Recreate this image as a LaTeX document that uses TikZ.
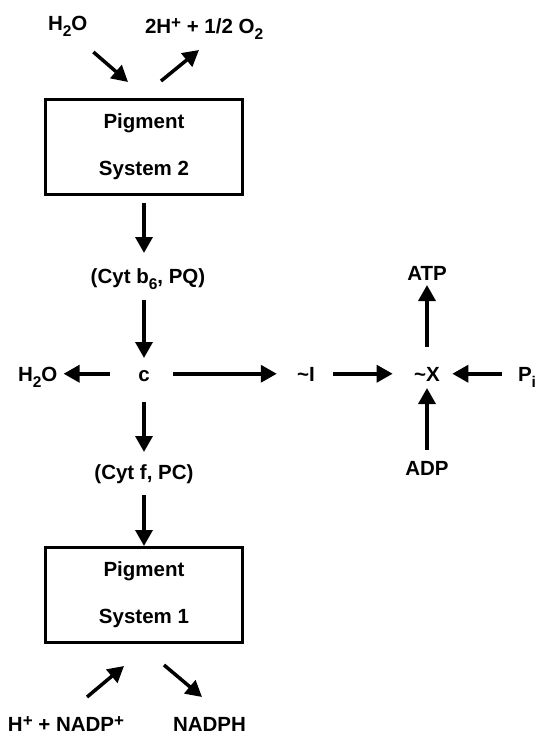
\documentclass[tikz,border=0pt]{standalone}
\usepackage{fontspec}
\setmainfont{Liberation Sans}
\usetikzlibrary{arrows.meta}
% small raised / lowered text for charges and indices
\newcommand\mysub[1]{\raisebox{-6.5pt}{\fontsize{15.5}{15.5}\selectfont #1}}
\newcommand\mysup[1]{\raisebox{5pt}{\fontsize{17}{17}\selectfont #1}}
\tikzset{
  lbl/.style={inner sep=0pt, outer sep=0pt, anchor=base, text height=14.5pt, text depth=0pt,
              font=\fontsize{20.5}{24}\selectfont\bfseries},
  psbox/.style={draw, line width=3.2pt, minimum width=196.8pt, minimum height=94.8pt,
                align=center, inner sep=0pt, font=\fontsize{20.5}{24}\selectfont\bfseries},
  arr/.style={line width=3.5pt, -{Triangle[length=16pt,width=17pt]}},
}
\begin{document}
\begin{tikzpicture}[x=1pt,y=-1pt]
\useasboundingbox (0,0) rectangle (541,734);

% photosystem boxes
\node[psbox] (ps2) at (144,147) {Pigment\\[23pt]System 2};
\node[psbox] (ps1) at (144,595) {Pigment\\[23pt]System 1};

% labels
\node[lbl, anchor=base west] (h2oA) at (48,30) {H\mysub{2}O};
\node[lbl, anchor=base west] (o2) at (145,33) {2H\mysup{+} + 1/2 O\mysub{2}};
\node[lbl] (cytb) at (148,283) {(Cyt b\mysub{6}, PQ)};
\node[lbl] (c) at (144,381) {c};
\node[lbl, anchor=base west] (h2oB) at (18,381) {H\mysub{2}O};
\node[lbl] (tI) at (306,381) {\textasciitilde I};
\node[lbl] (tX) at (427,381) {\textasciitilde X};
\node[lbl, anchor=base west] (pi) at (518,381) {P\mysub{i}};
\node[lbl] (atp) at (427,280) {ATP};
\node[lbl] (adp) at (427,475) {ADP};
\node[lbl] (cytf) at (144,479) {(Cyt f, PC)};
\node[lbl, anchor=base west] (nadp) at (8,731) {H\mysup{+} + NADP\mysup{+}};
\node[lbl, anchor=base west] (nadph) at (173,731) {NADPH};

% water splitting at photosystem 2
\draw[arr] ([shift={(6,22)}]h2oA.south east) -- ([shift={(-16,-16)}]ps2.north);
\draw[arr] ([shift={(17,-17)}]ps2.north) -- ([shift={(54,17)}]o2.south west);

% electron transport chain
\draw[arr, shorten <=7pt, shorten >=15.5pt] (ps2.south) -- (ps2.south |- cytb.north);
\draw[arr, shorten <=17pt, shorten >=8.5pt] (c.north |- cytb.south) -- (c.north);
\draw[arr, shorten <=21pt, shorten >=12.5pt] (c.south) -- (cytf.north);
\draw[arr, shorten <=16pt] (cytf.south) -- (ps1.north);

% side branches from c
\draw[arr, shorten <=28.4pt, shorten >=6.2pt] (c) -- (h2oB);
\draw[arr, shorten <=23.4pt, shorten >=20.4pt] (c) -- (tI);
\draw[arr, shorten <=18.4pt, shorten >=21.5pt] (tI) -- (tX);
\draw[arr, shorten <=16pt, shorten >=12.5pt] (pi) -- (tX);

% phosphorylation
\draw[arr, shorten <=19.5pt, shorten >=5pt] (tX.north) -- (atp.south);
\draw[arr, shorten <=10.5pt, shorten >=7pt] (adp.north) -- (tX.south);

% NADP reduction at photosystem 1
\draw[arr] ([shift={(79,-19.5)}]nadp.north west) -- ([shift={(-20,22)}]ps1.south);
\draw[arr] ([shift={(20,21)}]ps1.south) -- ([shift={(29,-19.5)}]nadph.north west);
\end{tikzpicture}
\end{document}
